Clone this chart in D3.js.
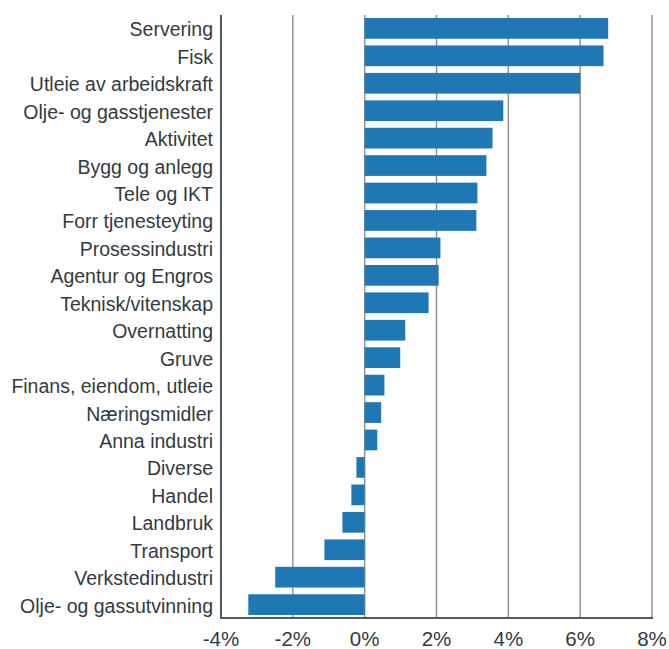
<!DOCTYPE html>
<html>
<head>
<meta charset="utf-8">
<script src="https://cdn.jsdelivr.net/npm/d3@7"></script>
<style>
  html, body { margin: 0; padding: 0; background: #ffffff; }
  svg { display: block; }
</style>
</head>
<body>
<svg id="chart" width="669" height="649"></svg>
<script>
const categories = [
  "Servering", "Fisk", "Utleie av arbeidskraft", "Olje- og gasstjenester",
  "Aktivitet", "Bygg og anlegg", "Tele og IKT", "Forr tjenesteyting",
  "Prosessindustri", "Agentur og Engros", "Teknisk/vitenskap", "Overnatting",
  "Gruve", "Finans, eiendom, utleie", "Næringsmidler", "Anna industri",
  "Diverse", "Handel", "Landbruk", "Transport", "Verkstedindustri",
  "Olje- og gassutvinning"
];
const values = [
  6.78, 6.65, 6.00, 3.86,
  3.56, 3.39, 3.14, 3.11,
  2.11, 2.06, 1.78, 1.13,
  0.99, 0.55, 0.46, 0.35,
  -0.23, -0.37, -0.62, -1.12, -2.49,
  -3.24
];
const tickValues = [-4, -2, 0, 2, 4, 6, 8];
const tickLabels = ["-4%", "-2%", "0%", "2%", "4%", "6%", "8%"];

(function () {
  const svg = d3.select("#chart");
  const mLeft = 221, mRight = 652, mTop = 15, mBottom = 618;

  const x = d3.scaleLinear().domain([-4, 8]).range([mLeft, mRight]);
  const y = d3.scaleBand().domain(categories).range([mTop, mBottom])
    .paddingInner(0.245).paddingOuter(0.11);

  // gridlines
  svg.append("g").selectAll("line")
    .data(tickValues.filter(d => d !== -4))
    .join("line")
    .attr("x1", d => x(d)).attr("x2", d => x(d))
    .attr("y1", mTop).attr("y2", mBottom)
    .attr("stroke", "#8c959b").attr("stroke-width", 1.5);

  // bars
  svg.append("g").selectAll("rect")
    .data(categories.map((c, i) => ({c, v: values[i]})))
    .join("rect")
    .attr("x", d => x(Math.min(0, d.v)))
    .attr("width", d => Math.abs(x(d.v) - x(0)))
    .attr("y", d => y(d.c))
    .attr("height", y.bandwidth())
    .attr("fill", "#1f77b4");

  // axis lines
  svg.append("line").attr("x1", mLeft).attr("x2", mLeft).attr("y1", mTop).attr("y2", mBottom + 1)
    .attr("stroke", "#4f5a62").attr("stroke-width", 2);
  svg.append("line").attr("x1", mLeft - 1).attr("x2", mRight + 1).attr("y1", mBottom).attr("y2", mBottom)
    .attr("stroke", "#4f5a62").attr("stroke-width", 2);

  // y labels
  svg.append("g").selectAll("text")
    .data(categories)
    .join("text")
    .attr("x", mLeft - 8)
    .attr("y", d => y(d) + y.bandwidth() / 2)
    .attr("dy", "0.41em")
    .attr("text-anchor", "end")
    .attr("font-family", "Liberation Sans, Arial, sans-serif")
    .attr("font-size", "19.5px")
    .attr("fill", "#333a40")
    .text(d => d);

  // x tick labels
  svg.append("g").selectAll("text")
    .data(tickValues)
    .join("text")
    .attr("x", d => x(d))
    .attr("y", 646)
    .attr("text-anchor", "middle")
    .attr("font-family", "Liberation Sans, Arial, sans-serif")
    .attr("font-size", "20.5px")
    .attr("fill", "#333a40")
    .text((d, i) => tickLabels[i]);
})();
</script>
</body>
</html>
